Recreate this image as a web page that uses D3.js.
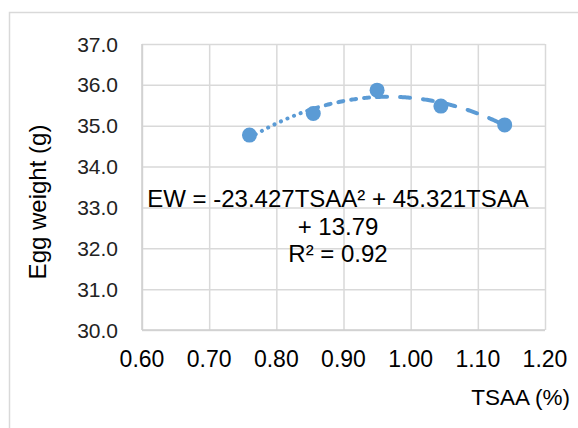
<!DOCTYPE html>
<html>
<head>
<meta charset="utf-8">
<script src="https://cdn.jsdelivr.net/npm/d3@7"></script>
<style>
  html, body { margin: 0; padding: 0; background: #fff; }
  svg { display: block; }
  text { font-family: "Liberation Sans", Arial, sans-serif; fill: #000; }
</style>
</head>
<body>
<svg id="chart" width="578" height="428"></svg>
<script>
// chart data
const tsaa = [0.76, 0.855, 0.95, 1.045, 1.14];
const eggWeight = [34.77, 35.30, 35.87, 35.48, 35.02];
const xTicks = [0.60, 0.70, 0.80, 0.90, 1.00, 1.10, 1.20];
const yTicks = [30, 31, 32, 33, 34, 35, 36, 37];
const trendCoef = [-23.427, 45.321, 13.79]; // a*x^2 + b*x + c
const eqLines = ['EW = -23.427TSAA² + 45.321TSAA', '+ 13.79', 'R² = 0.92'];
const xTitle = 'TSAA (%)';
const yTitle = 'Egg weight (g)';

const svg = d3.select('#chart');
const plot = { left: 142, right: 545, top: 44, bottom: 330 };
const blue = '#5B9BD5';
const grid = '#D9D9D9';

// outer chart border (runs off the right/bottom of the picture)
svg.append('rect')
  .attr('x', 9.5).attr('y', 12.5)
  .attr('width', 600).attr('height', 440)
  .attr('fill', '#fff').attr('stroke', grid).attr('stroke-width', 1.5);

const x = d3.scaleLinear().domain([0.6, 1.2]).range([plot.left, plot.right]);
const y = d3.scaleLinear().domain([30, 37]).range([plot.bottom, plot.top]);

// gridlines
const gx = svg.append('g')
  .attr('transform', `translate(0,${plot.bottom})`)
  .call(d3.axisBottom(x).tickValues(xTicks).tickSize(-(plot.bottom - plot.top)).tickFormat(''));
const gy = svg.append('g')
  .attr('transform', `translate(${plot.left},0)`)
  .call(d3.axisLeft(y).tickValues(yTicks).tickSize(-(plot.right - plot.left)).tickFormat(''));
[gx, gy].forEach(g => {
  g.select('.domain').remove();
  g.selectAll('line').attr('stroke', grid).attr('stroke-width', 1.5);
});

// axis lines
svg.append('line')
  .attr('x1', plot.left).attr('x2', plot.right)
  .attr('y1', plot.bottom).attr('y2', plot.bottom)
  .attr('stroke', '#CFCFCF').attr('stroke-width', 1.5);
svg.append('line')
  .attr('x1', plot.left).attr('x2', plot.left)
  .attr('y1', plot.top).attr('y2', plot.bottom)
  .attr('stroke', '#CFCFCF').attr('stroke-width', 1.5);

// tick labels
svg.append('g').selectAll('text')
  .data(xTicks).join('text')
  .attr('x', d => x(d)).attr('y', 367)
  .attr('text-anchor', 'middle')
  .style('font-size', '23px')
  .text(d => d.toFixed(2));
svg.append('g').selectAll('text')
  .data(yTicks).join('text')
  .attr('x', 118).attr('y', d => y(d))
  .attr('dy', '0.36em')
  .attr('text-anchor', 'end')
  .style('font-size', '21px')
  .style('fill', '#222')
  .text(d => d.toFixed(1));

// axis titles
svg.append('text')
  .attr('x', 570).attr('y', 405)
  .attr('text-anchor', 'end')
  .style('font-size', '22.5px')
  .text(xTitle);
svg.append('text')
  .attr('transform', 'translate(46,202) rotate(-90)')
  .attr('text-anchor', 'middle')
  .style('font-size', '24px')
  .text(yTitle);

// polynomial trendline; Excel's dash pattern stretches along the line,
// so draw it in three pieces
const trend = v => trendCoef[0] * v * v + trendCoef[1] * v + trendCoef[2];
const line = d3.line().x(d => x(d)).y(d => y(trend(d))).curve(d3.curveLinear);
const pieces = [
  { from: tsaa[0], to: tsaa[1], dash: '0.1 7' },
  { from: tsaa[1], to: tsaa[2], dash: '5 8' },
  { from: tsaa[2], to: tsaa[4], dash: '10 13' }
];
pieces.forEach(p => {
  const xs = d3.range(p.from, p.to, 0.002).concat([p.to]);
  svg.append('path')
    .attr('d', line(xs))
    .attr('fill', 'none')
    .attr('stroke', blue)
    .attr('stroke-width', 4)
    .attr('stroke-linecap', 'round')
    .attr('stroke-dasharray', p.dash);
});

// markers
svg.append('g').selectAll('circle')
  .data(tsaa.map((t, i) => [t, eggWeight[i]])).join('circle')
  .attr('cx', d => x(d[0])).attr('cy', d => y(d[1]))
  .attr('r', 7.5)
  .attr('fill', blue);

// equation label
svg.append('g').selectAll('text')
  .data(eqLines).join('text')
  .attr('x', 338).attr('y', (d, i) => 207 + i * 27.5)
  .attr('text-anchor', 'middle')
  .style('font-size', '24px')
  .text(d => d);
</script>
</body>
</html>
